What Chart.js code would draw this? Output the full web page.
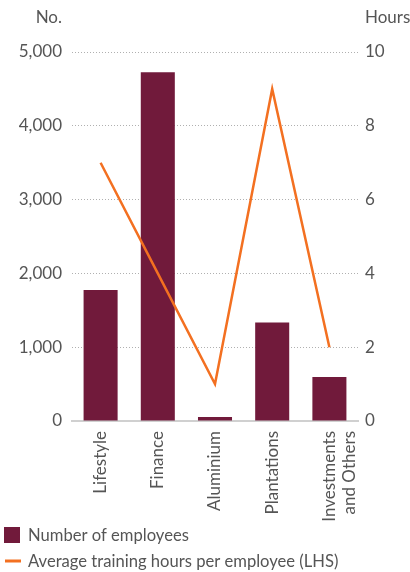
<!DOCTYPE html>
<html>
<head>
<meta charset="utf-8">
<script src="https://cdn.jsdelivr.net/npm/chart.js@4/dist/chart.umd.min.js"></script>
<style>
  html, body { margin: 0; padding: 0; background: #fff; }
  #wrap { position: relative; width: 410px; height: 572px; }
</style>
</head>
<body>
<div id="wrap"><canvas id="c"></canvas></div>
<script>
// Employees and training hours by business segment
const categories = ['Lifestyle', 'Finance', 'Aluminium', 'Plantations', ['Investments', 'and Others']];
const employees = [1775, 4725, 55, 1335, 595];
const trainingHours = [7, 4, 1, 9, 2];
const leftTicks = [0, 1000, 2000, 3000, 4000, 5000];
const rightTicks = [0, 2, 4, 6, 8, 10];
const seriesNames = ['Number of employees', 'Average training hours per employee (LHS)'];

const TEXT = '#555555';
const FONT = 'Lato, "Open Sans", sans-serif';
const BAR = '#711a3b';
const LINE = '#f37021';

// Axis captions above each value scale and a two-row legend underneath
const decorations = {
  id: 'decorations',
  afterDraw(chart) {
    const ctx = chart.ctx;
    const left = chart.scales.y;
    const right = chart.scales.y1;
    ctx.save();
    ctx.fillStyle = TEXT;
    ctx.font = '17px ' + FONT;
    ctx.textBaseline = 'middle';
    ctx.textAlign = 'right';
    ctx.fillText('No.', left.right - 10, 18);
    ctx.textAlign = 'left';
    ctx.fillText('Hours', right.left + 7, 18);

    ctx.font = '16.6px ' + FONT;
    // bars listed first, then the line
    const items = chart.data.datasets.slice().sort((a, b) => b.order - a.order);
    const rows = [535, 561];
    items.forEach((ds, i) => {
      const y = rows[i];
      if (ds.type === 'line') {
        ctx.strokeStyle = ds.borderColor;
        ctx.lineWidth = 3;
        ctx.beginPath();
        ctx.moveTo(5, y);
        ctx.lineTo(21, y);
        ctx.stroke();
      } else {
        ctx.fillStyle = ds.backgroundColor;
        ctx.fillRect(4, y - 8, 16, 16);
      }
      ctx.fillStyle = TEXT;
      ctx.textAlign = 'left';
      ctx.fillText(ds.label, 28, y + 1);
    });
    ctx.restore();
  }
};

new Chart(document.getElementById('c'), {
  data: {
    labels: categories,
    datasets: [
      {
        type: 'line',
        label: seriesNames[1],
        data: trainingHours,
        yAxisID: 'y1',
        borderColor: LINE,
        backgroundColor: LINE,
        borderWidth: 2.5,
        pointRadius: 0,
        tension: 0,
        order: 0
      },
      {
        type: 'bar',
        label: seriesNames[0],
        data: employees,
        yAxisID: 'y',
        backgroundColor: BAR,
        categoryPercentage: 1,
        barPercentage: 0.595,
        order: 1
      }
    ]
  },
  options: {
    responsive: true,
    maintainAspectRatio: false,
    animation: false,
    layout: { padding: { top: 52, bottom: 0, left: 0, right: 0 } },
    plugins: {
      legend: { display: false },
      tooltip: { enabled: false }
    },
    scales: {
      x: {
        grid: { display: false, drawTicks: false },
        border: { display: true, color: '#d0d0d0', width: 2 },
        ticks: {
          color: TEXT,
          font: { family: FONT, size: 17 },
          minRotation: 90,
          maxRotation: 90,
          padding: 10,
          autoSkip: false
        },
        afterFit(s) { s.height = 151; }
      },
      y: {
        position: 'left',
        min: 0,
        max: 5000,
        afterBuildTicks(s) { s.ticks = leftTicks.map(v => ({ value: v })); },
        grid: { color: '#b0b0b0', lineWidth: 1, drawTicks: false },
        border: { display: false, dash: [1, 2] },
        ticks: {
          color: TEXT,
          font: { family: FONT, size: 17 },
          padding: 10,
          callback: v => v.toLocaleString('en-US')
        },
        afterFit(s) { s.width = 72; s.paddingTop = 0; s.paddingBottom = 0; }
      },
      y1: {
        position: 'right',
        min: 0,
        max: 10,
        afterBuildTicks(s) { s.ticks = rightTicks.map(v => ({ value: v })); },
        grid: { display: false, drawTicks: false },
        border: { display: false },
        ticks: {
          color: TEXT,
          font: { family: FONT, size: 17 },
          padding: 7
        },
        afterFit(s) { s.width = 52; s.paddingTop = 0; s.paddingBottom = 0; }
      }
    }
  },
  plugins: [decorations]
});
</script>
</body>
</html>
